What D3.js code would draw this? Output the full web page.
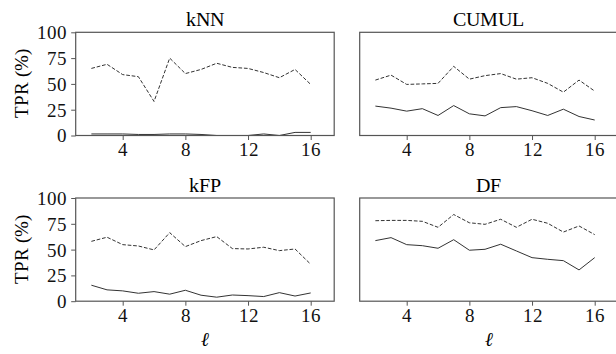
<!DOCTYPE html>
<html>
<head>
<meta charset="utf-8">
<script src="https://cdn.jsdelivr.net/npm/d3@7"></script>
<style>
  @font-face { font-family: 'PaperSerif'; src: local('Liberation Serif'), local('LiberationSerif'), local('LiberationSerif-Regular'); font-style: normal; }
  @font-face { font-family: 'PaperSerif'; src: local('Liberation Serif Italic'), local('LiberationSerif-Italic'); font-style: italic; }
  body { margin: 0; background: #fff; }
  svg text { font-family: PaperSerif, "Liberation Serif", serif !important; }
</style>
</head>
<body>
<script>
// window length l on the x axis
const ells = [2, 3, 4, 5, 6, 7, 8, 9, 10, 11, 12, 13, 14, 15, 16];
const xTicks = [4, 8, 12, 16];
const yTicks = [0, 25, 50, 75, 100];

// dashed = upper curve, solid = lower curve (TPR %)
const knnDashed = [65, 69, 59, 57, 33, 75, 60, 64, 70, 66, 65, 61, 56, 64, 49.5];
const knnSolid = [1.5, 1.5, 1.5, 1, 1, 1.5, 1.5, 1, 0, 0, 0, 1.5, 0, 3, 3];
const cumulDashed = [53.7, 58.5, 49.5, 50, 50.5, 67, 54.6, 58, 60, 54.6, 56, 50.5, 42, 53.7, 43];
const cumulSolid = [28.5, 26.5, 23.6, 26, 19.4, 29, 21, 19, 27, 28, 24, 19.4, 25.5, 18.4, 15];
const kfpDashed = [58, 62, 54.8, 53.5, 49.7, 66.4, 52.9, 58.7, 62.6, 51, 50.6, 52.3, 49, 50.6, 35.8];
const kfpSolid = [15.5, 11, 10, 7.7, 9.3, 6.8, 10.6, 5.8, 3.9, 6, 5.4, 4.5, 8.3, 5, 8];
const dfDashed = [78, 78.3, 78.3, 77.4, 71.6, 84, 76, 74.5, 79.4, 71.6, 79.4, 75.5, 67, 72.9, 64.5];
const dfSolid = [58.7, 61.6, 54.8, 53.8, 51.3, 59.6, 49.4, 50.3, 55.2, 48.7, 42.2, 40.6, 39.3, 30.3, 42.2];

const panels = [
  { title: 'kNN', dashed: knnDashed, solid: knnSolid, col: 0, row: 0 },
  { title: 'CUMUL', dashed: cumulDashed, solid: cumulSolid, col: 1, row: 0 },
  { title: 'kFP', dashed: kfpDashed, solid: kfpSolid, col: 0, row: 1 },
  { title: 'DF', dashed: dfDashed, solid: dfSolid, col: 1, row: 1 }
];

const width = 616, height = 354;
const colLeft = [75.7, 359.7];
const rowTop = [32.3, 198];
const pw = 258.5, ph = 103.2;

const svg = d3.select('body').append('svg')
  .attr('width', width)
  .attr('height', height);

const x = d3.scaleLinear().domain([1, 17.5]).range([0, pw]);
const y = d3.scaleLinear().domain([0, 100]).range([ph, 0]);

const line = d3.line()
  .x((d, i) => x(ells[i]))
  .y(d => y(d));

panels.forEach(p => {
  const g = svg.append('g')
    .attr('transform', 'translate(' + colLeft[p.col] + ',' + rowTop[p.row] + ')');

  g.append('path')
    .datum(p.dashed)
    .attr('d', line)
    .attr('fill', 'none')
    .attr('stroke', '#333')
    .attr('stroke-width', 1)
    .attr('stroke-dasharray', '3.7,1.8');

  g.append('path')
    .datum(p.solid)
    .attr('d', line)
    .attr('fill', 'none')
    .attr('stroke', '#333')
    .attr('stroke-width', 1);

  // frame
  g.append('rect')
    .attr('width', pw)
    .attr('height', ph)
    .attr('fill', 'none')
    .attr('stroke', '#555')
    .attr('stroke-width', 1.2);

  const xa = g.append('g')
    .attr('transform', 'translate(0,' + ph + ')')
    .call(d3.axisBottom(x).tickValues(xTicks).tickSize(4.5).tickPadding(3).tickSizeOuter(0));
  xa.attr('font-family', null).attr('font-size', 19);
  xa.select('.domain').remove();
  xa.selectAll('line').attr('stroke', '#555');
  xa.selectAll('text').attr('fill', '#111');

  if (p.col === 0) {
    const ya = g.append('g')
      .call(d3.axisLeft(y).tickValues(yTicks).tickSize(4.5).tickPadding(4).tickSizeOuter(0));
    ya.attr('font-family', null).attr('font-size', 19);
    ya.select('.domain').remove();
    ya.selectAll('line').attr('stroke', '#555');
    ya.selectAll('text').attr('fill', '#111').attr('dy', '0.34em');
  }

  g.append('text')
    .attr('x', pw / 2)
    .attr('y', -6.5)
    .attr('text-anchor', 'middle')
    .attr('font-size', 20)
    .text(p.title);

  if (p.col === 0) {
    g.append('text')
      .attr('transform', 'translate(' + (28.5 - colLeft[0]) + ',' + ph / 2 + ') rotate(-90)')
      .attr('text-anchor', 'middle')
      .attr('font-size', 19)
      .text('TPR (%)');
  }

  if (p.row === 1) {
    g.append('text')
      .attr('x', pw / 2)
      .attr('y', ph + 45)
      .attr('text-anchor', 'middle')
      .attr('font-size', 19)
      .attr('font-style', 'italic')
      .text('ℓ');
  }
});
</script>
</body>
</html>
